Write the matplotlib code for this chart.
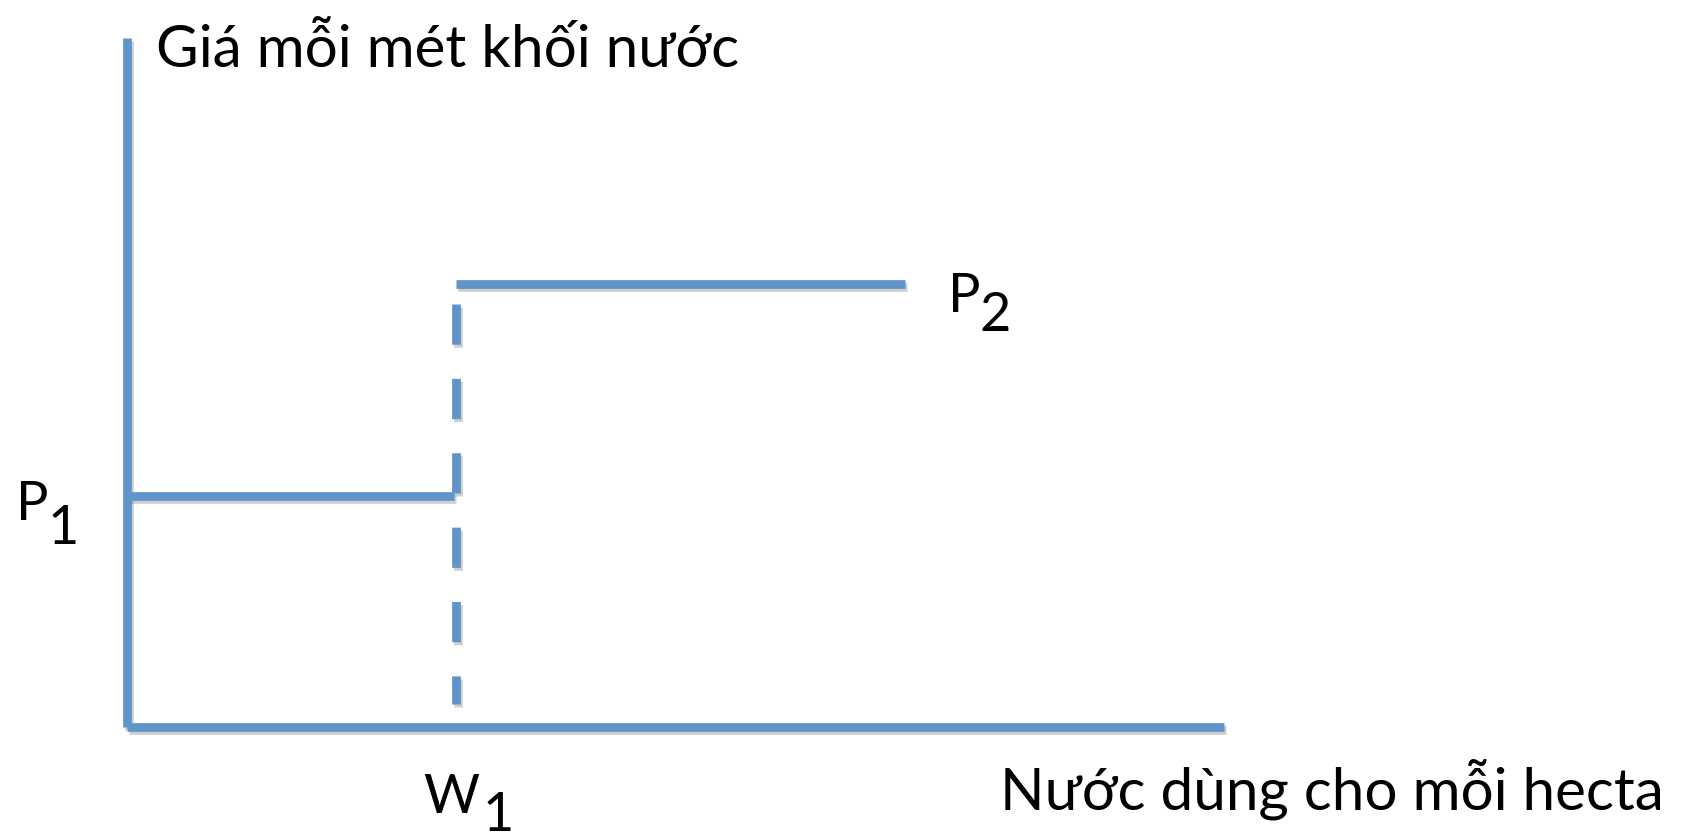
import matplotlib.pyplot as plt
import matplotlib.patheffects as pe

plt.rcParams['font.family'] = ['Lato', 'Noto Sans', 'DejaVu Sans']

# schematic values (1 unit = 100 px of the original picture)
x_axis_end = 10.97
y_axis_top = 6.89
w1 = 3.29
p1 = 2.31
p2 = 4.43
p2_end = 7.78
dash_bottom = 0.23
dash_top = 4.23

y_title = 'Giá mỗi mét khối nước'
x_title = 'Nước dùng cho mỗi hecta'

blue = '#5f95c9'
lw = 6.3
shadow = [pe.SimpleLineShadow(offset=(1.5, -2), shadow_color='#777777', alpha=0.35), pe.Normal()]

fig = plt.figure(figsize=(16.86, 8.38), dpi=100)
ax = fig.add_axes([0, 0, 1, 1])
ax.set_xlim(-1.27, 15.59)
ax.set_ylim(-1.11, 7.27)
ax.axis('off')

# axes
ax.plot([0, 0], [0, y_axis_top], color=blue, lw=lw, solid_capstyle='butt', path_effects=shadow)
ax.plot([0, x_axis_end], [0, 0], color=blue, lw=lw, solid_capstyle='butt', path_effects=shadow)

# price steps
ax.plot([0, w1 - 0.02], [p1, p1], color=blue, lw=lw, solid_capstyle='butt', path_effects=shadow)
ax.plot([w1, p2_end], [p2, p2], color=blue, lw=lw, solid_capstyle='butt', path_effects=shadow)
ax.plot([w1, w1], [dash_top, dash_bottom], color=blue, lw=lw, dashes=(4.6, 3.9),
        dash_capstyle='butt', path_effects=shadow)

fs = 42
ax.text(0.29, 6.6, y_title, fontsize=fs, va='baseline', ha='left')
ax.text(8.73, -0.82, x_title, fontsize=fs, va='baseline', ha='left')

# labels with subscripts
ax.text(-1.11, 2.07, 'P', fontsize=39, va='baseline')
ax.text(-0.79, 1.83, '1', fontsize=39, va='baseline')
ax.text(8.21, 4.15, 'P', fontsize=39, va='baseline')
ax.text(8.52, 3.96, '2', fontsize=39, va='baseline')
ax.text(2.96, -0.86, 'W', fontsize=39, va='baseline')
ax.text(3.56, -1.04, '1', fontsize=39, va='baseline')

fig.savefig('out.png', dpi=100)
